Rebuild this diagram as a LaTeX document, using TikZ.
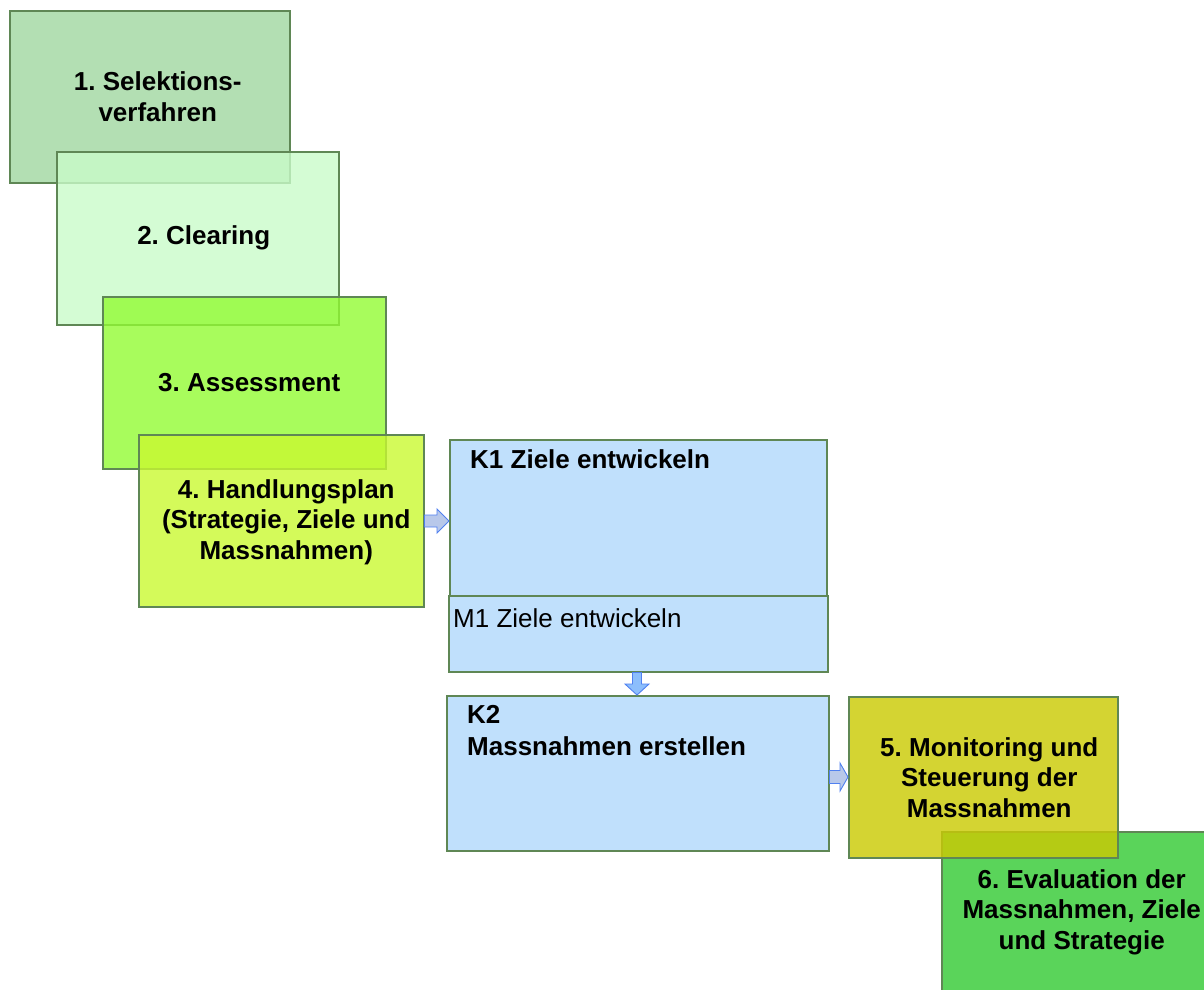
\documentclass[tikz,border=0pt]{standalone}
\usepackage{fontspec}
\setmainfont{Liberation Sans}
\usetikzlibrary{calc}
\frenchspacing

\definecolor{edge}{RGB}{95,135,85}
\definecolor{stageA}{RGB}{179,223,179}
\definecolor{stageB}{RGB}{201,251,201}
\definecolor{stageC}{RGB}{146,251,51}
\definecolor{stageD}{RGB}{201,249,49}
\definecolor{stageE}{RGB}{202,202,5}
\definecolor{stageF}{RGB}{90,212,90}
\definecolor{kbox}{RGB}{192,224,252}
\definecolor{arrowline}{RGB}{80,128,240}
\definecolor{arrowfill}{RGB}{184,200,234}
\definecolor{arrowdown}{RGB}{140,190,252}

% horizontal block arrow: from, to, shaft half-width, head half-width, head length
\newcommand\blockarrowright[5]{%
  \draw[barrow] ($(#1)+(0,-#3)$) -- ($(#2)+(-#5,-#3)$) -- ($(#2)+(-#5,-#4)$) -- (#2)
    -- ($(#2)+(-#5,#4)$) -- ($(#2)+(-#5,#3)$) -- ($(#1)+(0,#3)$) -- cycle;}
% vertical block arrow pointing down
\newcommand\blockarrowdown[5]{%
  \draw[barrow,fill=arrowdown] ($(#1)+(-#3,0)$) -- ($(#2)+(-#3,-#5)$) -- ($(#2)+(-#4,-#5)$) -- (#2)
    -- ($(#2)+(#4,-#5)$) -- ($(#2)+(#3,-#5)$) -- ($(#1)+(#3,0)$) -- cycle;}

\begin{document}
\begin{tikzpicture}[x=1pt,y=-1pt,
  stage/.style={draw=edge, line width=1.5pt, rectangle, inner sep=0pt, anchor=north west},
  see/.style={fill opacity=0.8},
  lbl/.style={font=\bfseries\fontsize{26}{30.5}\selectfont, align=center, inner sep=0pt},
  plain/.style={font=\fontsize{26}{30.5}\selectfont, inner sep=0pt, anchor=base west},
  barrow/.style={draw=arrowline, line width=0.9pt, fill=arrowfill, line join=miter}]
\clip (0,0) rectangle (1204,989);

% process stages 1-4
\node[stage, fill=stageA, minimum width=280pt, minimum height=172pt] (b1) at (9,10) {};
\node[stage, see, fill=stageB, minimum width=282pt, minimum height=173pt] (b2) at (56,151) {};
\node[stage, see, fill=stageC, minimum width=283pt, minimum height=172pt] (b3) at (102,296) {};
\node[stage, see, fill=stageD, minimum width=285pt, minimum height=172pt] (b4) at (138,434) {};

\node[lbl] (t1) at ($(b1.center)+(8,0)$) {1. Selektions-\\verfahren};
\node[lbl] (t2) at ($(b2.center)+(6,0)$) {2. Clearing};
\node[lbl] (t3) at ($(b3.center)+(5,0)$) {3. Assessment};
\node[lbl] (t4) at ($(b4.center)+(5,1.5)$) {4. Handlungsplan\\(Strategie, Ziele und\\Massnahmen)};

% detail boxes for step 4
\node[stage, fill=kbox, minimum width=377pt, minimum height=156pt] (k1) at (449,439) {};
\node[stage, fill=kbox, minimum width=379pt, minimum height=76pt] (m1) at (448,595) {};
\node[stage, fill=kbox, minimum width=382pt, minimum height=155pt] (k2) at (446,695) {};

\node[lbl, anchor=base west] (k1t) at ($(k1.north west)+(21,29)$) {K1 Ziele entwickeln};
\node[plain] (m1t) at ($(m1.north west)+(5,32)$) {M1 Ziele entwickeln};
\node[lbl, anchor=base west] (k2a) at ($(k2.north west)+(21,28)$) {K2};
\node[lbl, anchor=base west] (k2b) at ($(k2.north west)+(21,60)$) {Massnahmen erstellen};

% stages 5 and 6
\node[stage, fill=stageF, minimum width=270pt, minimum height=161pt] (b6) at (941,831) {};
\node[stage, fill=stageE, fill opacity=0.82, minimum width=269pt, minimum height=161pt] (b5) at (848,696) {};

\node[lbl] (t5) at ($(b5.center)+(6,0)$) {5. Monitoring und\\Steuerung der\\Massnahmen};
\node[lbl] (t6) at ($(b6.center)+(5,0)$) {6. Evaluation der\\Massnahmen, Ziele\\und Strategie};

% connectors
\coordinate (a1s) at (b4.east |- 0,521);
\coordinate (a1e) at (k1.west |- 0,521);
\blockarrowright{a1s}{a1e}{6}{12}{12}

\coordinate (a2s) at (m1.south -| 637,0);
\coordinate (a2e) at (k2.north -| 637,0);
\blockarrowdown{a2s}{a2e}{4.5}{12}{11}

\coordinate (a3s) at (k2.east |- 0,777);
\coordinate (a3e) at (b5.west |- 0,777);
\blockarrowright{a3s}{a3e}{6.5}{14}{8}
\end{tikzpicture}
\end{document}
